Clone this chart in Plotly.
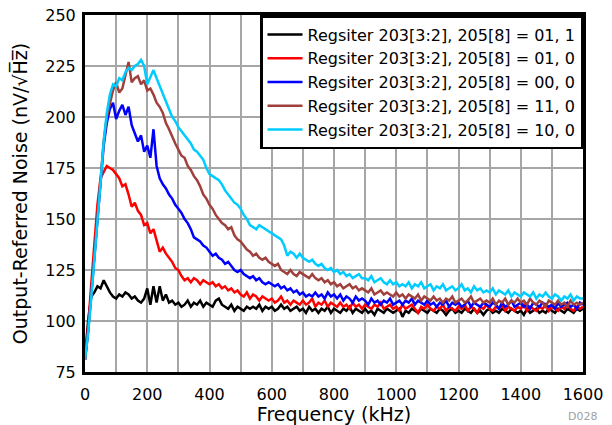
import plotly.graph_objects as go

# frequency axis (kHz), one point every 10 kHz
freq = list(range(0, 1610, 10))

# noise (nV/rtHz)
noise_01_1 = [
    82, 100, 112, 114, 117, 116, 120, 117, 114, 112,
    111, 113, 112, 114, 113, 111, 112, 110, 109, 111,
    116, 108, 117, 109, 117, 110, 113, 109, 110, 108,
    109, 107, 108, 110, 107, 109, 108, 110, 107, 109,
    108, 107, 110, 111, 108, 107, 106, 108, 105, 107,
    106, 105, 107, 106, 107, 106, 108, 105, 107, 106,
    107, 105, 106, 108, 106, 107, 105, 106, 107, 105,
    106, 104, 107, 105, 106, 104, 106, 105, 107, 104,
    106, 105, 104, 106, 105, 107, 104, 106, 105, 104,
    106, 104, 105, 103, 106, 105, 104, 106, 105, 104,
    105, 106, 102, 105, 104, 106, 105, 104, 106, 105,
    104, 106, 105, 104, 106, 105, 103, 105, 106, 104,
    105, 104, 106, 105, 104, 106, 104, 105, 103, 105,
    106, 104, 105, 104, 106, 105, 104, 106, 105, 104,
    105, 103, 106, 104, 105, 106, 104, 105, 104, 106,
    105, 104, 106, 105, 104, 106, 105, 104, 106, 105,
    106,
]
noise_01_0 = [
    81, 97, 118, 138, 157, 170, 173, 176, 175, 174,
    172, 170, 166, 167, 162, 156, 158, 154, 152, 147,
    148, 143, 145, 140, 134, 136, 133, 131, 129, 126,
    125, 122, 120, 121, 119, 121, 120, 118, 120, 119,
    118, 119, 117, 118, 116, 117, 115, 116, 114, 115,
    113, 112, 114, 111, 113, 112, 110, 112, 111, 110,
    111, 109, 110, 112, 109, 110, 108, 110, 109, 108,
    110, 108, 109, 111, 107, 109, 108, 110, 107, 109,
    108, 107, 109, 107, 108, 106, 109, 107, 108, 106,
    108, 107, 106, 108, 107, 109, 106, 107, 108, 106,
    107, 105, 108, 106, 107, 108, 106, 104, 107, 106,
    108, 106, 105, 107, 106, 108, 105, 107, 106, 105,
    107, 106, 108, 105, 107, 106, 104, 107, 106, 108,
    106, 105, 107, 106, 108, 105, 107, 106, 105, 107,
    106, 108, 105, 107, 106, 105, 107, 106, 108, 105,
    107, 106, 105, 107, 106, 108, 106, 105, 107, 106,
    107,
]
noise_00_0 = [
    81, 95, 113, 131, 150, 168, 186, 197, 204, 207,
    199, 203, 206, 201, 205, 196, 192, 188, 191, 183,
    186, 180, 194, 176, 170, 167, 165, 162, 160, 157,
    155, 153, 150, 148, 145, 141, 140, 139, 137, 136,
    134, 132, 133, 131, 130, 128, 129, 127, 125, 124,
    125, 123, 122, 121, 122, 120, 121, 119, 118, 119,
    118, 117, 118, 116, 117, 115, 116, 114, 115, 113,
    114, 112, 113, 112, 114, 112, 113, 111, 114, 112,
    113, 111, 113, 110, 112, 111, 109, 112, 110, 111,
    110, 108, 111, 109, 110, 108, 110, 109, 111, 108,
    109, 110, 108, 110, 109, 111, 108, 110, 109, 108,
    110, 108, 109, 107, 109, 108, 110, 107, 109, 108,
    109, 107, 108, 110, 107, 109, 108, 107, 109, 108,
    107, 109, 108, 106, 109, 107, 108, 110, 107, 108,
    109, 107, 108, 106, 109, 108, 107, 109, 108, 107,
    108, 106, 109, 107, 108, 109, 107, 108, 106, 109,
    108,
]
noise_11_0 = [
    81, 95, 113, 131, 150, 169, 188, 200, 207, 213,
    217, 212, 214, 220, 227, 217, 219, 220, 216, 218,
    213, 214, 211, 207, 205, 202, 197, 194, 190, 187,
    184, 181, 180, 176, 174, 171, 169, 166, 162, 160,
    157, 155, 152, 150, 148, 147, 145, 146, 142, 140,
    139, 137, 135, 134, 132, 133, 131, 130, 131, 129,
    128, 127, 128, 125, 124, 123, 125, 123, 122, 124,
    123, 122, 121, 123, 121, 120, 121, 119, 120, 118,
    119, 117, 118, 116, 117, 118, 116, 117, 115, 116,
    115, 114, 116, 113, 114, 115, 113, 114, 113, 112,
    114, 112, 113, 111, 113, 112, 111, 113, 110, 112,
    111, 110, 112, 110, 111, 109, 111, 110, 112, 109,
    110, 111, 109, 110, 112, 109, 110, 111, 109, 110,
    109, 111, 108, 110, 109, 111, 108, 110, 109, 111,
    109, 110, 108, 111, 109, 108, 110, 109, 107, 110,
    109, 108, 110, 108, 109, 107, 110, 108, 109, 108,
    109,
]
noise_10_0 = [
    81, 94, 111, 129, 148, 168, 188, 202, 211, 216,
    215, 219, 218, 222, 224, 223, 225, 226, 228, 225,
    216, 220, 223, 219, 215, 212, 207, 203, 200, 198,
    195, 193, 191, 189, 187, 184, 183, 181, 179, 175,
    172, 171, 170, 169, 167, 164, 162, 160, 158, 157,
    155, 152, 150, 147, 146, 145, 147, 146, 145, 144,
    143, 142, 141, 140, 137, 132, 134, 133, 131, 133,
    131, 130, 129, 130, 128, 127, 128, 126, 125, 126,
    124, 125, 123, 124, 122, 123, 121, 122, 123, 121,
    121, 120, 122, 119, 120, 121, 119, 118, 120, 118,
    119, 117, 118, 117, 119, 116, 118, 117, 119, 116,
    117, 118, 115, 117, 116, 118, 115, 116, 117, 115,
    116, 118, 115, 116, 114, 117, 115, 116, 114, 115,
    114, 116, 113, 115, 114, 113, 115, 112, 114, 113,
    112, 114, 113, 112, 114, 111, 113, 112, 114, 112,
    111, 113, 112, 110, 112, 111, 113, 110, 112, 111,
    111,
]

series = [
    ("Regsiter 203[3:2], 205[8] = 01, 1", noise_01_1, "#000000"),
    ("Regsiter 203[3:2], 205[8] = 01, 0", noise_01_0, "#ff0000"),
    ("Regsiter 203[3:2], 205[8] = 00, 0", noise_00_0, "#0000ff"),
    ("Regsiter 203[3:2], 205[8] = 11, 0", noise_11_0, "#a0403c"),
    ("Regsiter 203[3:2], 205[8] = 10, 0", noise_10_0, "#00ccff"),
]

fig = go.Figure()
for name, vals, color in series:
    fig.add_trace(go.Scatter(x=freq, y=vals, mode="lines", name=name,
                             line=dict(color=color, width=2.5)))

fig.update_layout(
    width=612, height=425,
    margin=dict(l=85, r=29, t=15, b=53, autoexpand=False),
    plot_bgcolor="white", paper_bgcolor="white",
    font=dict(family="DejaVu Sans", size=16, color="black"),
    showlegend=True,
    legend=dict(x=1.0, y=1.0, xanchor="right", yanchor="top",
                bgcolor="white", bordercolor="black", borderwidth=2.5,
                font=dict(size=16), tracegroupgap=0, itemwidth=35),
)

# axes: thick black frame, grey grid every 100 kHz / 25 nV
fig.update_xaxes(range=[0, 1600], dtick=200, showline=True, mirror=True,
                 linecolor="black", linewidth=3, showgrid=True,
                 gridcolor="#a6a6a6", gridwidth=1.5, zeroline=False,
                 minor=dict(dtick=100, showgrid=True, gridcolor="#a6a6a6", gridwidth=1.5),
                 title=dict(text="Frequency (kHz)", standoff=5), ticks="",
                 ticklabelstandoff=6, automargin=False)
fig.update_yaxes(range=[75, 250], dtick=25, showline=True, mirror=True,
                 linecolor="black", linewidth=3, showgrid=True,
                 gridcolor="#a6a6a6", gridwidth=1.5, zeroline=False,
                 title=dict(text="Output-Referred Noise (nV/\u221aH\u0305z\u0305)", standoff=13),
                 ticks="", ticklabelstandoff=3, automargin=False)

# small figure id at bottom right
fig.add_annotation(text="D028", x=1.0, y=0, xref="paper", yref="paper",
                   xanchor="right", yanchor="middle", xshift=16, yshift=-44,
                   showarrow=False, font=dict(size=11, color="#a0a0a0"))

# drop the default body margin so the 612x425 figure fills the window
fig.write_html("out.html", config={"displayModeBar": False},
               post_script="document.body.style.margin='0';")
